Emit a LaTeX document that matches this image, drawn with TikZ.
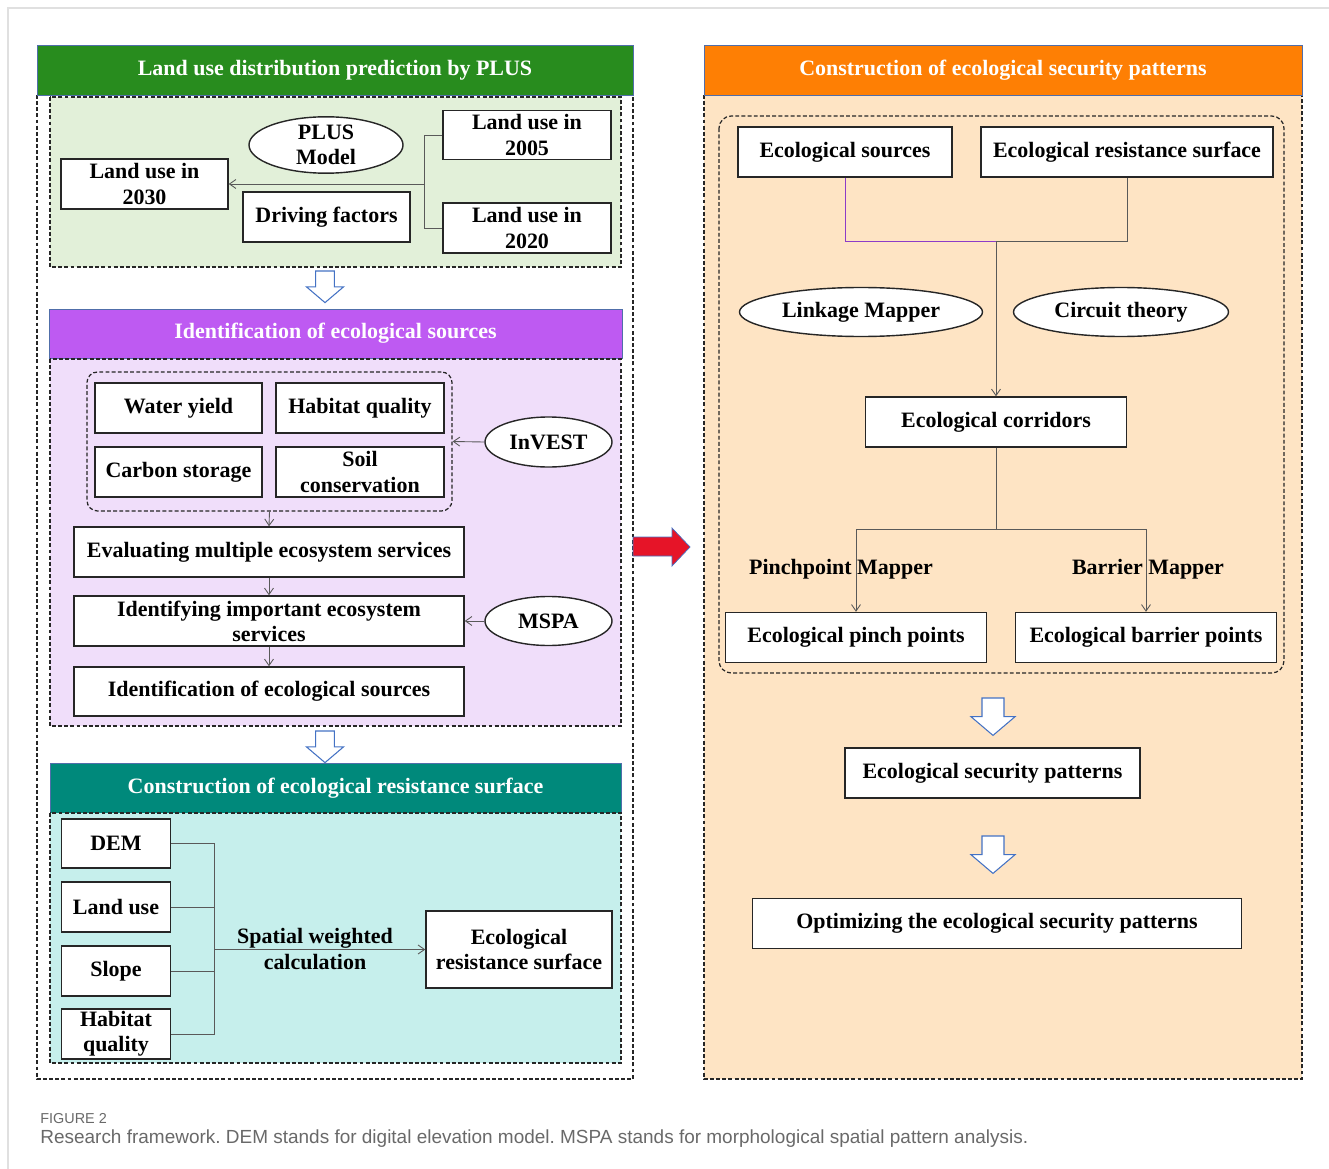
\documentclass[tikz,border=0pt]{standalone}
\usepackage{fontspec}
\setmainfont{Liberation Serif}
\newfontfamily\capfont{Liberation Sans}
\usepackage{tikz}
\usetikzlibrary{arrows.meta,shapes.geometric}
\frenchspacing

\definecolor{plusgreen}{RGB}{40,140,30}
\definecolor{lightgreen}{RGB}{226,240,217}
\definecolor{srcpurple}{RGB}{190,90,242}
\definecolor{lightlilac}{RGB}{240,222,250}
\definecolor{resteal}{RGB}{0,137,123}
\definecolor{lightcyan}{RGB}{198,239,236}
\definecolor{esporange}{RGB}{254,127,4}
\definecolor{peach}{RGB}{254,228,196}
\definecolor{arrowblue}{RGB}{68,114,196}
\definecolor{hdline}{RGB}{80,110,170}
\definecolor{redarrow}{RGB}{230,20,40}
\definecolor{linepurple}{RGB}{140,60,200}
\definecolor{capgray}{RGB}{105,105,105}

\newcommand{\hollowdown}[3]{%
  \draw[hol] (#1-10*#3,#2) -- (#1+10*#3,#2) -- (#1+10*#3,#2+17*#3) -- (#1+20*#3,#2+17*#3)
    -- (#1,#2+34*#3) -- (#1-20*#3,#2+17*#3) -- (#1-10*#3,#2+17*#3) -- cycle;}

\begin{document}
\begin{tikzpicture}[x=0.02cm, y=-0.02cm,
    txt/.style={font=\bfseries\fontsize{12.5}{14.3}\selectfont, align=center},
    bx/.style={txt, draw=black!85, line width=0.8pt, fill=white, inner sep=0pt},
    ov/.style={bx, ellipse},
    sz/.style 2 args={minimum width=#1*0.02cm, minimum height=#2*0.02cm},
    hd/.style={txt, text=white, fill=#1, draw=hdline, line width=0.5pt, inner sep=0pt},
    ln/.style={draw=black!65, line width=0.5pt},
    ar/.style={ln, -{Straight Barb[length=1.3mm, width=1.8mm]}},
    dsh/.style={draw=black!85, line width=0.7pt, dash pattern=on 2.2pt off 1.3pt},
    hol/.style={draw=arrowblue, fill=white, line width=0.6pt},
]
    \useasboundingbox (0,0) rectangle (1329,1169);
    \draw[black!12, line width=1pt] (8,1169) -- (8,8) -- (1329,8);

    % left column
    \draw[dsh] (37,95) rectangle (633,1079);
    \node[hd=plusgreen, sz={596}{50}] (h1) at (335,70) {Land use distribution prediction by PLUS};
    \draw[dsh, fill=lightgreen] (50,97) rectangle (621,267);
    \node[ov, sz={154}{55}] (plus) at (326,145) {PLUS\\Model};
    \node[bx, sz={168}{49}] (lu2005) at (527,135) {Land use in\\2005};
    \node[bx, sz={168}{50}] (lu2020) at (527,228) {Land use in\\2020};
    \node[bx, sz={167}{50}] (lu2030) at (144.5,184) {Land use in\\2030};
    \node[bx, sz={167}{50}] (drive) at (326.5,217) {Driving factors};
    \coordinate (j1) at (424,184);
    \draw[ln] (lu2005.west) -- (lu2005.west -| j1) -- (lu2020.west -| j1) -- (lu2020.west);
    \draw[ar] (j1) -- (lu2030.east);
    \hollowdown{325}{271}{0.93}

    \node[hd=srcpurple, sz={573}{49}] (h2) at (335.5,333.5) {Identification of ecological sources};
    \draw[dsh, fill=lightlilac] (50,359) rectangle (621,726);
    \node[dsh, rounded corners=6pt, sz={365}{139}] (grp) at (269.5,441.5) {};
    \node[bx, sz={167}{50}] (wyield) at (178.5,408) {Water yield};
    \node[bx, sz={168}{50}] (habq) at (360,408) {Habitat quality};
    \node[bx, sz={167}{50}] (carbon) at (178.5,472) {Carbon storage};
    \node[bx, sz={168}{50}] (soilc) at (360,472) {Soil\\conservation};
    \node[ov, sz={127}{50}] (invest) at (548.5,442) {InVEST};
    \node[bx, sz={390}{50}] (evalmes) at (269,552) {Evaluating multiple ecosystem services};
    \node[bx, sz={390}{50}] (idimp) at (269,621) {Identifying important ecosystem\\services};
    \node[bx, sz={390}{49}] (idsrc) at (269,691.5) {Identification of ecological sources};
    \node[ov, sz={127}{49}] (mspa) at (548.5,621) {MSPA};
    \draw[ar] (invest.west) -- (grp.east);
    \draw[ar] (grp.south) -- (evalmes.north);
    \draw[ar] (evalmes) -- (idimp);
    \draw[ar] (idimp) -- (idsrc);
    \draw[ar] (mspa.west) -- (idimp.east);
    \hollowdown{325}{731}{0.93}

    \node[hd=resteal, sz={571}{50}] (h3) at (335.5,788) {Construction of ecological resistance surface};
    \draw[dsh, fill=lightcyan] (50,813) rectangle (621,1063);
    \node[bx, sz={109}{49}] (dem) at (116,843.5) {DEM};
    \node[bx, sz={109}{50}] (landuse) at (116,907) {Land use};
    \node[bx, sz={109}{50}] (slope) at (116,971) {Slope};
    \node[bx, sz={109}{50}] (habq2) at (116,1034) {Habitat\\quality};
    \node[bx, sz={186}{77}] (ersurf) at (519,949.5) {Ecological\\resistance surface};
    \coordinate (j2) at (214,949.5);
    \draw[ln] (dem.east) -| (j2);
    \draw[ln] (habq2.east) -| (j2);
    \draw[ln] (landuse.east) -- (landuse.east -| j2);
    \draw[ln] (slope.east) -- (slope.east -| j2);
    \draw[ar] (j2) -- (ersurf.west);
    \node[txt, font=\bfseries\fontsize{12.5}{15.3}\selectfont] (swcalc) at (315,949) {Spatial weighted\\calculation};

    % link between the two columns
    \draw[draw=arrowblue, fill=redarrow, line width=0.4pt] (633,537) -- (672,537) -- (672,528)
        -- (690,547) -- (672,566) -- (672,556) -- (633,556) -- cycle;

    % right column
    \draw[dsh, fill=peach] (704,95) rectangle (1302,1079);
    \node[hd=esporange, sz={598}{50}] (h4) at (1003,70) {Construction of ecological security patterns};
    \draw[dsh, rounded corners=7pt] (719,116) rectangle (1284,673);
    \node[bx, sz={214}{50}] (esrc) at (845,152) {Ecological sources};
    \node[bx, sz={292}{50}] (eres) at (1127,152) {Ecological resistance surface};
    \node[ov, sz={243}{49}] (linkm) at (861,312) {Linkage Mapper};
    \node[ov, sz={215}{49}] (circt) at (1121,312) {Circuit theory};
    \node[bx, sz={261}{50}] (corr) at (996,422) {Ecological corridors};
    \node[bx, sz={261}{50}] (pinch) at (856,637.5) {Ecological pinch points};
    \node[bx, sz={261}{50}] (barrier) at (1146,637.5) {Ecological barrier points};
    \coordinate (m1) at (996,241);
    \coordinate (m2) at (996,529.5);
    \draw[ln, draw=linepurple] (esrc.south) |- (m1);
    \draw[ln] (eres.south) |- (m1);
    \draw[ar] (m1) -- (corr.north);
    \draw[ln] (corr.south) -- (m2);
    \draw[ar] (m2) -| (pinch.north);
    \draw[ar] (m2) -| (barrier.north);
    \node[txt] (pinchlbl) at (841,569) {Pinchpoint Mapper};
    \node[txt] (barrlbl) at (1148,569) {Barrier Mapper};
    \hollowdown{993}{698}{1.1}
    \node[bx, sz={295}{50}] (esp) at (992.5,773) {Ecological security patterns};
    \hollowdown{993}{836}{1.1}
    \node[bx, sz={489}{50}] (optesp) at (997,923.5) {Optimizing the ecological security patterns};

    \node[anchor=west, inner sep=0pt, text=capgray, font=\capfont\fontsize{8.2}{9}\selectfont] (fig) at (40,1119) {FIGURE 2};
    \node[anchor=west, inner sep=0pt, text=capgray, font=\capfont\fontsize{10.8}{12}\selectfont] (cap) at (40,1139)
        {Research framework. DEM stands for digital elevation model. MSPA stands for morphological spatial pattern analysis.};
\end{tikzpicture}
\end{document}
